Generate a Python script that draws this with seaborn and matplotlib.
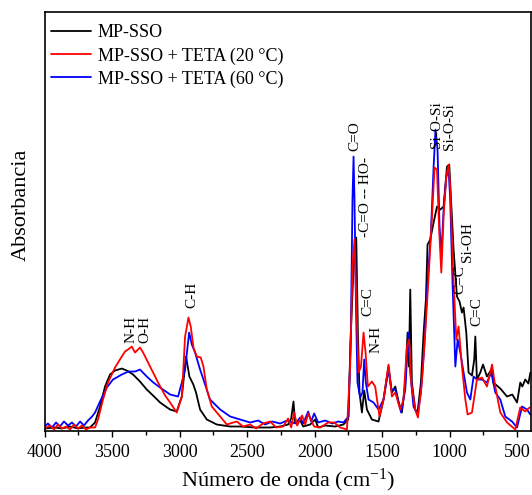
import matplotlib
matplotlib.use("Agg")
import matplotlib.pyplot as plt
from matplotlib.ticker import MultipleLocator
import pandas as pd
import seaborn as sns

# FTIR spectra: (wavenumber in cm-1, absorbance in arbitrary units)
mp_sso = [
    (4000, 2), (3924, 3), (3872, 2), (3812, 4), (3753, 2), (3701, 3), (3664, 3),
    (3627, 8), (3590, 24), (3553, 44), (3516, 56), (3479, 60), (3429, 62), (3392, 60),
    (3345, 56), (3294, 49), (3244, 41), (3182, 33), (3145, 28), (3093, 23), (3071, 21),
    (3022, 19), (2984, 34), (2953, 74), (2928, 54), (2899, 46), (2879, 38), (2849, 21),
    (2799, 11), (2725, 6), (2626, 4), (2552, 4), (2441, 3), (2330, 3), (2256, 4),
    (2197, 6), (2174, 12), (2157, 29), (2145, 8), (2107, 10), (2085, 4), (2033, 6),
    (1996, 11), (1974, 3), (1922, 5), (1848, 4), (1787, 6), (1752, 11), (1732, 98),
    (1712, 164), (1692, 193), (1680, 98), (1668, 38), (1650, 18), (1633, 40), (1613, 21),
    (1576, 11), (1527, 9), (1490, 31), (1453, 64), (1428, 38), (1403, 44), (1379, 29),
    (1354, 18), (1329, 48), (1312, 98), (1302, 64), (1292, 141), (1280, 48), (1255, 21),
    (1238, 18), (1213, 48), (1193, 98), (1176, 131), (1164, 186), (1144, 191), (1119, 208),
    (1094, 224), (1070, 221), (1045, 224), (1020, 264), (1003, 266), (990, 231), (971, 181),
    (946, 134), (927, 129), (909, 118), (897, 123), (877, 98), (860, 58), (835, 55),
    (818, 71), (810, 94), (798, 51), (773, 58), (753, 66), (724, 54), (686, 62), (677, 48),
    (625, 42), (575, 34), (536, 36), (501, 28), (477, 48), (462, 44), (440, 51), (417, 47),
    (402, 58),
]

teta_20 = [
    (4000, 2), (3961, 5), (3931, 1), (3901, 6), (3872, 2), (3842, 4), (3812, 1), (3783, 6),
    (3753, 2), (3724, 5), (3694, 1), (3664, 3), (3627, 3), (3605, 11), (3568, 31), (3531, 48),
    (3479, 63), (3429, 74), (3405, 79), (3383, 81), (3355, 84), (3331, 78), (3294, 83),
    (3271, 78), (3234, 68), (3197, 58), (3160, 48), (3108, 35), (3071, 28), (3022, 18),
    (2984, 34), (2960, 94), (2935, 113), (2918, 104), (2898, 83), (2873, 74), (2844, 73),
    (2824, 64), (2799, 41), (2762, 24), (2700, 14), (2651, 6), (2577, 9), (2530, 4),
    (2478, 6), (2434, 2), (2382, 7), (2330, 9), (2285, 3), (2233, 4), (2197, 12), (2174, 3),
    (2152, 18), (2130, 5), (2093, 15), (2070, 6), (2048, 17), (2026, 10), (2004, 4),
    (1959, 3), (1900, 8), (1856, 8), (1811, 3), (1761, 1), (1737, 64), (1720, 164),
    (1705, 191), (1692, 131), (1675, 58), (1657, 64), (1638, 98), (1623, 78), (1606, 44),
    (1576, 49), (1552, 44), (1520, 14), (1490, 31), (1453, 66), (1428, 34), (1403, 38),
    (1366, 21), (1342, 31), (1317, 84), (1300, 91), (1285, 48), (1255, 21), (1235, 13),
    (1206, 48), (1181, 98), (1156, 154), (1131, 214), (1112, 263), (1094, 261), (1077, 198),
    (1062, 158), (1045, 214), (1025, 254), (1008, 266), (996, 244), (976, 164), (951, 91),
    (934, 104), (909, 64), (884, 31), (867, 16), (835, 18), (798, 51), (761, 53), (724, 44),
    (686, 66), (662, 44), (625, 18), (575, 8), (514, 1), (477, 23), (440, 19), (408, 23),
]

teta_60 = [
    (4000, 4), (3976, 7), (3946, 3), (3916, 8), (3887, 4), (3857, 9), (3827, 5), (3798, 8),
    (3768, 4), (3738, 9), (3709, 5), (3679, 10), (3649, 14), (3627, 18), (3590, 29),
    (3540, 43), (3494, 51), (3429, 56), (3380, 59), (3331, 59), (3294, 61), (3244, 54),
    (3195, 48), (3145, 43), (3071, 36), (3012, 34), (2984, 48), (2960, 61), (2930, 98),
    (2910, 86), (2886, 78), (2849, 61), (2824, 51), (2775, 31), (2700, 21), (2626, 14),
    (2552, 11), (2478, 8), (2419, 10), (2367, 6), (2315, 9), (2256, 7), (2204, 10),
    (2145, 7), (2107, 13), (2085, 7), (2048, 19), (2026, 9), (2004, 17), (1974, 8),
    (1922, 10), (1870, 7), (1826, 9), (1787, 8), (1749, 14), (1732, 98), (1720, 231),
    (1712, 274), (1705, 231), (1695, 131), (1683, 48), (1663, 33), (1646, 38), (1633, 71),
    (1621, 48), (1601, 31), (1564, 28), (1527, 21), (1490, 31), (1453, 61), (1433, 41),
    (1403, 41), (1379, 28), (1359, 18), (1329, 41), (1305, 98), (1292, 58), (1268, 24),
    (1238, 16), (1213, 38), (1188, 84), (1164, 148), (1139, 198), (1119, 264), (1105, 301),
    (1090, 281), (1075, 204), (1062, 174), (1045, 221), (1025, 254), (1008, 261), (996, 231),
    (979, 148), (958, 64), (941, 91), (921, 78), (897, 58), (872, 38), (847, 31), (823, 54),
    (798, 51), (761, 51), (724, 48), (692, 58), (662, 38), (625, 31), (588, 14), (538, 9),
    (501, 3), (464, 24), (427, 21), (403, 16),
]

series_names = ["MP-SSO", "MP-SSO + TETA (20 °C)", "MP-SSO + TETA (60 °C)"]
series_colors = ["black", "red", "blue"]

# band assignments: (text, wavenumber, height)
band_labels = [
    ("N-H", 3360, 101), ("O-H", 3256, 101), ("C-H", 2908, 136),
    ("C=O", 1700, 295), ("-C=O -- HO-", 1626, 234), ("C=C", 1603, 129),
    ("N-H", 1544, 91), ("Si-O-Si", 1099, 306), ("Si-O-Si", 1003, 304),
    ("C=C", 921, 151), ("Si-OH", 869, 189), ("C=C", 795, 119),
]

sns.set_style("white")
plt.rcParams["font.family"] = ["Liberation Serif", "DejaVu Serif"]
plt.rcParams["mathtext.fontset"] = "custom"
plt.rcParams["mathtext.rm"] = "Liberation Serif"
plt.rcParams["mathtext.default"] = "regular"
for key in ["text.color", "axes.labelcolor", "xtick.color", "ytick.color", "axes.edgecolor"]:
    plt.rcParams[key] = "black"

fig = plt.figure(figsize=(5.32, 4.95), dpi=100)
ax = fig.add_axes([0.0840, 0.1303, 0.9135, 0.8461])

data = {series_names[0]: mp_sso, series_names[1]: teta_20, series_names[2]: teta_60}
draw_order = [0, 2, 1]
for i in draw_order:
    df = pd.DataFrame(data[series_names[i]], columns=["wn", "absorb"])
    sns.lineplot(data=df, x="wn", y="absorb", color=series_colors[i], linewidth=1.3,
                 sort=False, estimator=None, label=series_names[i], ax=ax)

handles, labels = ax.get_legend_handles_labels()
lookup = dict(zip(labels, handles))
ax.legend([lookup[n] for n in series_names], series_names, loc="upper left",
          bbox_to_anchor=(0.013, 0.97), frameon=False, fontsize=13,
          handlelength=2.2, handletextpad=0.4, labelspacing=0.33, borderpad=0,
          borderaxespad=0)

for text, wn, h in band_labels:
    ax.text(wn, h, text, rotation=90, ha="center", va="center", fontsize=11)

ax.set_xlim(4000, 400)
ax.set_ylim(0, 419)
ax.xaxis.set_major_locator(MultipleLocator(500))
ax.xaxis.set_minor_locator(MultipleLocator(250))
ax.set_yticks([])
ax.tick_params(axis="x", which="both", direction="out", bottom=True, top=False,
               labelsize=13, pad=6)
ax.tick_params(axis="x", which="major", length=4, width=1)
ax.tick_params(axis="x", which="minor", length=3, width=1)
for s in ax.spines.values():
    s.set_visible(True)
    s.set_linewidth(1.2)
    s.set_color("black")

ax.set_xlabel("Número de onda (cm$^{-1}$)", fontsize=16, labelpad=4)
ax.set_ylabel("Absorbancia", fontsize=16)
ax.yaxis.set_label_coords(-0.028, 0.54)

fig.savefig("out.png", dpi=100)
